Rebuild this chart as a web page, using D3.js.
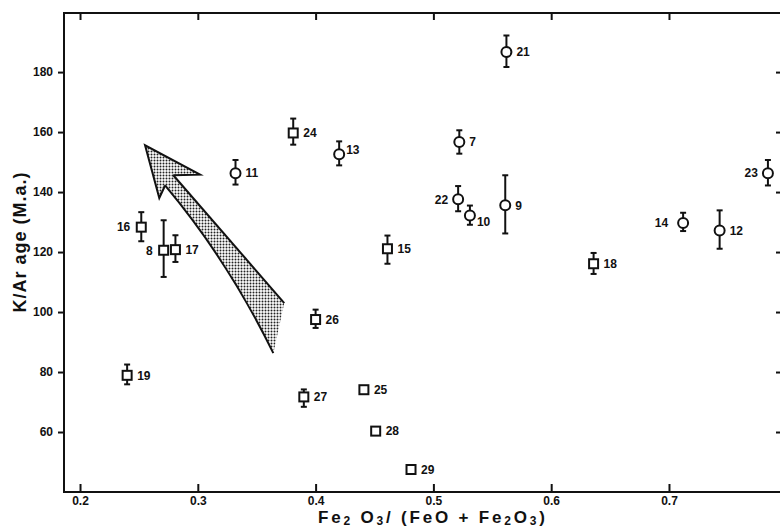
<!DOCTYPE html>
<html>
<head>
<meta charset="utf-8">
<script src="https://cdn.jsdelivr.net/npm/d3@7"></script>
<style>
  body { margin: 0; background: #fff; }
  svg { display: block; }
</style>
</head>
<body>
<svg id="chart" width="780" height="528"></svg>
<script>
(() => {
    // sample numbers and their Fe2O3/(FeO+Fe2O3) ratio vs K/Ar age (M.a.)
    const ids   = [21, 7, 22, 10, 9, 14, 12, 23, 11, 13, 15, 18, 24, 16, 8, 17, 26, 19, 27, 25, 28, 29];
    const ratio = [0.562, 0.522, 0.521, 0.531, 0.561, 0.712, 0.743, 0.784, 0.332, 0.420, 0.461, 0.636, 0.381, 0.252, 0.271, 0.281, 0.400, 0.240, 0.390, 0.441, 0.451, 0.481];
    const age   = [186.7, 156.7, 137.6, 132.2, 135.6, 129.7, 127.2, 146.3, 146.3, 152.6, 121.1, 116.1, 159.7, 128.3, 120.6, 120.8, 97.5, 78.9, 71.7, 74.1, 60.3, 47.5];
    const errUp = [5.5, 3.9, 4.4, 3.3, 10, 3.4, 6.7, 4.4, 4.4, 4.3, 4.4, 3.6, 4.8, 5, 10, 4.8, 3.3, 3.6, 2.5, 0, 0, 0];
    const errDn = [5.0, 3.9, 4.0, 3.1, 9.4, 2.7, 6.1, 4.1, 3.8, 3.7, 5, 3.4, 3.9, 4.7, 8.9, 4.1, 2.8, 3, 3.3, 0, 0, 0];
    const shape = ["o", "o", "o", "o", "o", "o", "o", "o", "o", "o", "s", "s", "s", "s", "s", "s", "s", "s", "s", "s", "s", "s"];

    const xTicks = [0.2, 0.3, 0.4, 0.5, 0.6, 0.7];
    const yTicks = [60, 80, 100, 120, 140, 160, 180];

    // trend arrow outline, in data units
    const arrowHead = [[0.2792, 145.6], [0.3019, 145.8], [0.2552, 155.6], [0.2673, 138.0], [0.2722, 142.2]];
    const arrowTop = [[0.2792, 145.6], [0.3734, 103.0]];
    const arrowBottom = [[0.2722, 142.2], [0.326, 117.0], [0.3641, 86.3]];

    const data = ids.map((id, i) => ({
        id, x: ratio[i], y: age[i], up: errUp[i], dn: errDn[i], shape: shape[i]
    }));

    // label placement (side, dx, dy)
    const labelPos = {
        16: ["l", -11, 0], 8: ["l", -11, 0], 22: ["l", -10, 0], 14: ["l", -15, 0], 23: ["l", -10, 0],
        13: ["r", 7, -5], 10: ["r", 7, 6]
    };

    const svg = d3.select("#chart");
    const left = 64, right = 781, top = 13, bottom = 492;
    const font = "'Liberation Sans', Arial, sans-serif";

    const x = d3.scaleLinear().domain([0.1864, 0.7951]).range([left, right]);
    const y = d3.scaleLinear().domain([40, 199.7]).range([bottom, top]);

    // stipple for the arrow
    const pat = svg.append("defs").append("pattern")
        .attr("id", "stip").attr("patternUnits", "userSpaceOnUse")
        .attr("width", 3).attr("height", 3);
    pat.append("rect").attr("width", 3).attr("height", 3).attr("fill", "#fff");
    pat.append("circle").attr("cx", 1.5).attr("cy", 1.5).attr("r", 1).attr("fill", "#222");

    // axes
    const styleAxis = g => {
        g.select(".domain").remove();
        g.selectAll(".tick line").attr("stroke", "#111").attr("stroke-width", 2);
        g.selectAll("text").attr("font-family", font).attr("font-weight", "bold")
            .attr("font-size", "12px").attr("fill", "#111");
    };

    svg.append("g").attr("transform", `translate(0,${bottom})`)
        .call(d3.axisBottom(x).tickValues(xTicks).tickSizeInner(-8).tickSizeOuter(0)
            .tickPadding(4).tickFormat(d3.format(".1f")))
        .call(styleAxis);

    svg.append("g").attr("transform", `translate(0,${top})`)
        .call(d3.axisTop(x).tickValues(xTicks).tickSizeInner(-7).tickSizeOuter(0).tickFormat(""))
        .call(styleAxis);

    svg.append("g").attr("transform", `translate(${left},0)`)
        .call(d3.axisLeft(y).tickValues(yTicks).tickSizeInner(6).tickSizeOuter(0).tickPadding(5))
        .call(styleAxis);

    svg.append("g").attr("transform", `translate(${right},0)`)
        .call(d3.axisRight(y).tickValues(yTicks).tickSizeInner(-5).tickSizeOuter(0).tickFormat(""))
        .call(styleAxis);

    // frame
    svg.append("path")
        .attr("d", `M${right},${top}H${left}V${bottom}H${right}`)
        .attr("fill", "none").attr("stroke", "#111").attr("stroke-width", 2);

    // arrow
    const P = p => [x(p[0]), y(p[1])];
    const h = arrowHead.map(P), t = arrowTop.map(P), b = arrowBottom.map(P);
    svg.append("path")
        .attr("d", `M${h[2]}L${h[1]}L${h[0]}L${t[1]}L${b[2]}Q${b[1]} ${b[0]}L${h[3]}Z`)
        .attr("fill", "url(#stip)").attr("stroke", "none");
    svg.append("path")
        .attr("d", `M${h[0]}L${h[1]}L${h[2]}L${h[3]}L${h[4]}`)
        .attr("fill", "none").attr("stroke", "#111").attr("stroke-width", 2).attr("stroke-linejoin", "miter");
    svg.append("path")
        .attr("d", `M${t[0]}L${t[1]}`)
        .attr("fill", "none").attr("stroke", "#111").attr("stroke-width", 2);
    svg.append("path")
        .attr("d", `M${b[0]}Q${b[1]} ${b[2]}`)
        .attr("fill", "none").attr("stroke", "#111").attr("stroke-width", 2);

    // error bars
    const eb = svg.append("g").attr("stroke", "#111").attr("stroke-width", 2);
    data.filter(d => d.up > 0).forEach(d => {
        const cx = x(d.x), y1 = y(d.y + d.up), y2 = y(d.y - d.dn);
        eb.append("line").attr("x1", cx).attr("x2", cx).attr("y1", y1).attr("y2", y2);
        eb.append("line").attr("x1", cx - 3).attr("x2", cx + 3).attr("y1", y1).attr("y2", y1);
        eb.append("line").attr("x1", cx - 3).attr("x2", cx + 3).attr("y1", y2).attr("y2", y2);
    });

    // markers
    svg.append("g").selectAll("circle")
        .data(data.filter(d => d.shape === "o"))
        .join("circle")
        .attr("cx", d => x(d.x)).attr("cy", d => y(d.y)).attr("r", 5)
        .attr("fill", "#fff").attr("stroke", "#111").attr("stroke-width", 2);

    svg.append("g").selectAll("rect")
        .data(data.filter(d => d.shape === "s"))
        .join("rect")
        .attr("x", d => x(d.x) - 4.5).attr("y", d => y(d.y) - 4.5)
        .attr("width", 9).attr("height", 9)
        .attr("fill", "#fff").attr("stroke", "#111").attr("stroke-width", 2);

    // point labels
    svg.append("g").selectAll("text")
        .data(data)
        .join("text")
        .attr("x", d => x(d.x) + (labelPos[d.id] ? labelPos[d.id][1] : 10))
        .attr("y", d => y(d.y) + (labelPos[d.id] ? labelPos[d.id][2] : 0))
        .attr("dy", "0.36em")
        .attr("text-anchor", d => labelPos[d.id] && labelPos[d.id][0] === "l" ? "end" : "start")
        .attr("font-family", font).attr("font-weight", "bold").attr("font-size", "12px")
        .attr("fill", "#111")
        .text(d => d.id);

    // axis titles
    svg.append("text")
        .attr("transform", "translate(26,242) rotate(-90)")
        .attr("text-anchor", "middle")
        .attr("font-family", font).attr("font-weight", "bold").attr("font-size", "18px")
        .attr("letter-spacing", "1px")
        .attr("fill", "#111")
        .text("K/Ar age (M.a.)");

    const xl = svg.append("text")
        .attr("x", 318).attr("y", 523)
        .attr("font-family", font).attr("font-weight", "bold").attr("font-size", "17px")
        .attr("fill", "#111").attr("letter-spacing", "2.8px");
    const parts = [["Fe", 0], ["2", 1], [" O", 0], ["3", 1], ["/ (FeO + Fe", 0], ["2", 1], ["O", 0], ["3", 1], [")", 0]];
    let sub = false;
    parts.forEach(([s, isSub]) => {
        const ts = xl.append("tspan").text(s);
        if (isSub && !sub) ts.attr("font-size", "12px").attr("dy", 2);
        if (!isSub && sub) ts.attr("dy", -2);
        sub = !!isSub;
    });
})();
</script>
</body>
</html>
